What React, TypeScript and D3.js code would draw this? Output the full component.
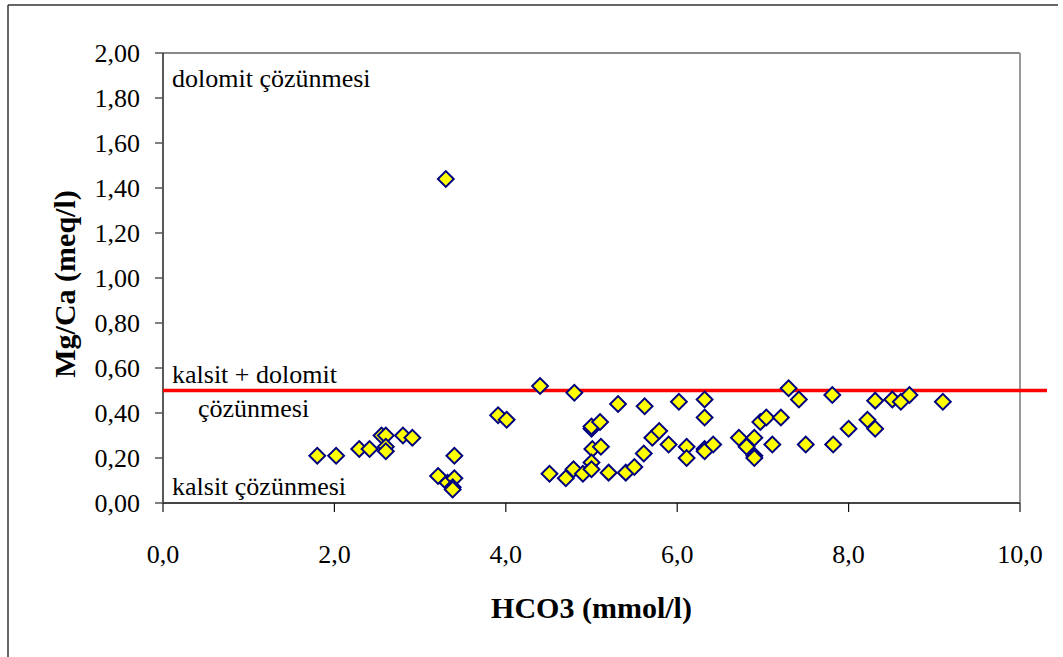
import React from "react";
import * as d3 from "d3";

const hco3 = [
  1.8, 2.02, 2.29, 2.41, 2.55, 2.6, 2.6, 2.6, 2.8, 2.91, 3.3, 3.21, 3.32, 3.4, 3.4, 3.38, 3.38,
  3.91, 4.01, 4.4, 4.8, 4.51, 4.7, 4.79, 4.9, 5.0, 5.0, 5.1, 5.01, 5.11, 5.0, 5.0, 5.2, 5.31,
  5.4, 5.5, 5.61, 5.62, 5.71, 5.79, 5.9, 6.02, 6.11, 6.11, 6.32, 6.32, 6.32, 6.32, 6.42, 6.72,
  6.81, 6.9, 6.9, 6.9, 6.97, 7.04, 7.11, 7.21, 7.3, 7.42, 7.5, 7.81, 7.82, 8.0, 8.22, 8.31,
  8.31, 8.51, 8.61, 8.71, 9.1,
];
const mgca = [
  0.21, 0.21, 0.24, 0.24, 0.3, 0.3, 0.25, 0.23, 0.3, 0.29, 1.44, 0.12, 0.09, 0.21, 0.11, 0.07, 0.06,
  0.39, 0.37, 0.52, 0.49, 0.13, 0.11, 0.15, 0.13, 0.33, 0.34, 0.36, 0.24, 0.25, 0.18, 0.15, 0.135, 0.44,
  0.135, 0.16, 0.22, 0.43, 0.29, 0.32, 0.26, 0.45, 0.25, 0.2, 0.46, 0.38, 0.24, 0.23, 0.26, 0.29,
  0.25, 0.29, 0.21, 0.2, 0.36, 0.38, 0.26, 0.38, 0.51, 0.46, 0.26, 0.48, 0.26, 0.33, 0.37, 0.33,
  0.455, 0.46, 0.45, 0.48, 0.45,
];
const xTicks = [0, 2, 4, 6, 8, 10];
const yTicks = [0, 0.2, 0.4, 0.6, 0.8, 1.0, 1.2, 1.4, 1.6, 1.8, 2.0];
const refLine = 0.5;
const annotations = [
  { text: "dolomit çözünmesi", x: 172, y: 87 },
  { text: "kalsit + dolomit", x: 172, y: 383 },
  { text: "çözünmesi", x: 198, y: 417 },
  { text: "kalsit çözünmesi", x: 172, y: 495 },
];

const W = 1063;
const H = 657;
const left = 163;
const right = 1020;
const top = 53;
const bottom = 503;

export default function App() {
  const x = d3.scaleLinear().domain([0, 10]).range([left, right]);
  const y = d3.scaleLinear().domain([0, 2]).range([bottom, top]);
  const fmtX = (v: number) => d3.format(".1f")(v).replace(".", ",");
  const fmtY = (v: number) => d3.format(".2f")(v).replace(".", ",");
  const diamond = d3.symbol().type(d3.symbolSquare).size(125)() as string;
  const font = '"Liberation Serif", "Times New Roman", Times, serif';
  const ts = { fontFamily: font };

  return (
    <svg width={W} height={H} style={{ position: "absolute", left: 0, top: 0, background: "#fff", fontFamily: font }}>
      {/* outer frame */}
      <line x1={8} y1={5} x2={1058} y2={5} stroke="#333" strokeWidth={1.5} />
      <line x1={8} y1={5} x2={8} y2={H} stroke="#333" strokeWidth={1.5} />

      {/* plot border top/right */}
      <line x1={left} y1={top} x2={right} y2={top} stroke="#888" strokeWidth={2} />
      <line x1={right} y1={top} x2={right} y2={bottom} stroke="#999" strokeWidth={2} />

      {/* y axis */}
      <line x1={left} y1={top} x2={left} y2={bottom} stroke="#222" strokeWidth={1.5} />
      {yTicks.map((t) => (
        <g key={"y" + t}>
          <line x1={left - 8} x2={left} y1={y(t)} y2={y(t)} stroke="#555" strokeWidth={1.5} />
          <text x={140} y={y(t) + 9} textAnchor="end" fontSize={26} fill="#000" style={ts}>
            {fmtY(t)}
          </text>
        </g>
      ))}

      {/* x axis */}
      <line x1={left} y1={bottom} x2={right} y2={bottom} stroke="#444" strokeWidth={2} />
      {xTicks.map((t) => (
        <g key={"x" + t}>
          <line x1={x(t)} x2={x(t)} y1={bottom} y2={bottom + 9} stroke="#111" strokeWidth={1.2} />
          <text x={x(t)} y={563} textAnchor="middle" fontSize={26} fill="#000" style={ts}>
            {fmtX(t)}
          </text>
        </g>
      ))}

      {/* reference line */}
      <line x1={left} x2={1047} y1={y(refLine)} y2={y(refLine)} stroke="#ff0000" strokeWidth={3.5} />

      {/* points */}
      {hco3.map((v, i) => (
        <path
          key={"p" + i}
          d={diamond}
          transform={`translate(${x(v)},${y(mgca[i])}) rotate(45)`}
          fill="#ffff00"
          stroke="#000080"
          strokeWidth={2}
        />
      ))}

      {/* annotations */}
      {annotations.map((a) => (
        <text key={a.text} x={a.x} y={a.y} fontSize={26} fill="#000" style={ts}>
          {a.text}
        </text>
      ))}

      {/* axis titles */}
      <text x={(left + right) / 2} y={618} textAnchor="middle" fontSize={30} fontWeight="bold" fill="#000" style={ts}>
        HCO3 (mmol/l)
      </text>
      <text
        transform={`translate(75,${(top + bottom) / 2 + 6}) rotate(-90)`}
        textAnchor="middle"
        fontSize={30}
        fontWeight="bold"
        fill="#000"
        style={ts}
      >
        Mg/Ca (meq/l)
      </text>
    </svg>
  );
}
